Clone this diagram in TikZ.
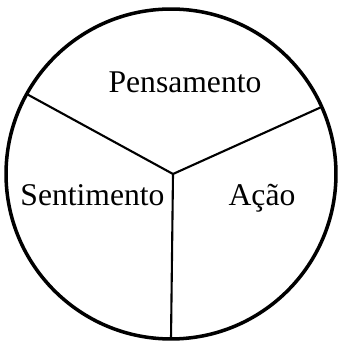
\documentclass[tikz,border=0pt]{standalone}
\usepackage{fontspec}
\setmainfont{Liberation Serif}
\usetikzlibrary{positioning}
\tikzset{
  every picture/.style={x=0.02cm, y=0.02cm},
  rim/.style={circle, draw=black, line width=2pt, inner sep=0pt, outer sep=0pt, minimum size=6.6cm},
  spoke/.style={draw=black, line width=1.2pt, line cap=round},
  label/.style={font=\fontsize{18}{21}\selectfont, anchor=base, inner sep=0pt},
}
\begin{document}
\begin{tikzpicture}
  \useasboundingbox (0,0) rectangle (338,341);
  \node[rim] (disc) at (171,167) {};
  \coordinate (hub) at (173,167);
  \foreach \a in {151,24,270} {
    \draw[spoke] (hub) -- (disc.\a);
  }
  \node[label] (pens) at (185,248) {Pensamento};
  \node[label] (sent) at (92.5,135) {Sentimento};
  \node[label] (acao) at (262,135) {Ação};
\end{tikzpicture}
\end{document}
